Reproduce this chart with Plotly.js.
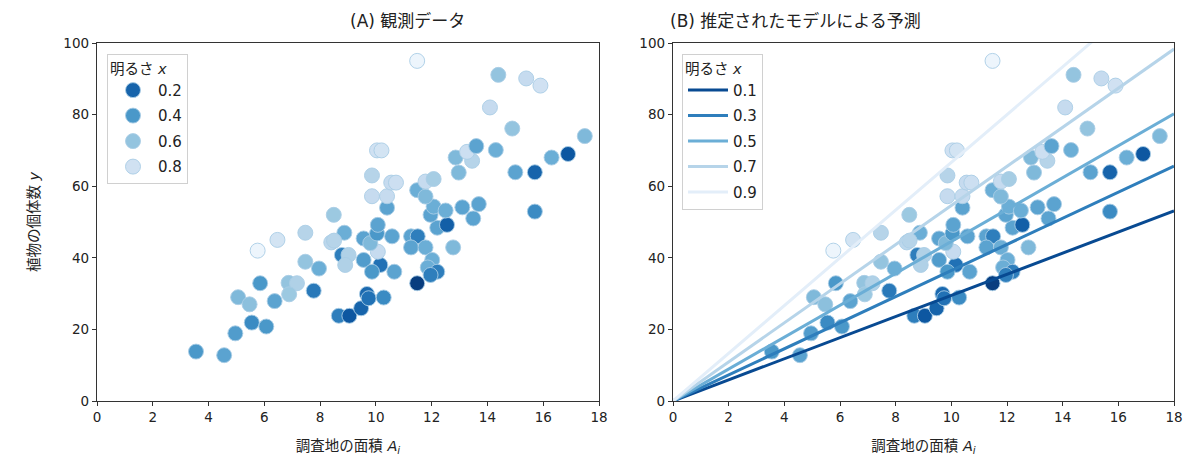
<!DOCTYPE html>
<html>
<head>
<meta charset="utf-8">
<script src="https://cdn.plot.ly/plotly-3.0.1.min.js"></script>
<style>
  body { margin: 0; background: #fff; }
  #chart { width: 1200px; height: 466px; }
</style>
</head>
<body>
<div id="chart"></div>
<script>
// observed plots: area A_i, plant count y, brightness x
var area = [3.55, 4.56, 4.96, 5.06, 5.47, 5.55, 6.07, 5.85, 5.76, 6.47,
            6.37, 6.87, 7.17, 6.89, 7.47, 7.47, 7.96, 7.77, 8.49, 8.87,
            8.40, 8.50, 8.67, 9.05, 8.78, 9.02, 8.90, 9.47, 9.68, 9.74,
            10.28, 9.56, 10.16, 9.86, 10.66, 10.07, 9.56, 9.80, 10.04, 10.07,
            10.58, 10.40, 9.86, 10.40, 9.86, 10.55, 10.72, 10.04, 10.20, 11.48,
            11.26, 11.50, 11.26, 11.78, 12.77, 12.02, 11.86, 12.20, 11.96, 11.48,
            12.20, 12.55, 11.96, 12.07, 12.50, 13.10, 13.69, 13.49, 11.48, 11.78,
            11.78, 12.07, 12.97, 12.86, 13.45, 13.27, 13.60, 14.30, 15.00, 15.70,
            15.70, 16.30, 16.89, 17.49, 14.89, 14.09, 14.39, 15.39, 15.90];
var count = [13.8, 12.8, 18.9, 29.0, 27.0, 21.9, 20.8, 32.9, 42.0, 45.0,
             27.9, 33.0, 32.9, 29.8, 38.9, 47.0, 37.0, 30.8, 52.0, 47.0,
             44.3, 44.8, 23.8, 23.8, 40.8, 40.8, 38.0, 25.9, 29.9, 28.7,
             28.9, 39.4, 38.0, 36.1, 36.1, 41.7, 45.4, 44.1, 46.8, 49.2,
             46.0, 54.0, 57.2, 57.2, 63.0, 61.0, 61.0, 70.0, 70.0, 95.0,
             46.0, 46.0, 42.9, 42.9, 42.9, 39.4, 37.3, 36.1, 35.2, 32.9,
             48.4, 49.2, 52.0, 54.3, 53.2, 54.1, 55.0, 51.0, 58.9, 57.1,
             61.3, 62.0, 63.8, 68.0, 67.1, 69.6, 71.2, 70.1, 63.9, 63.9,
             52.9, 68.0, 69.0, 74.0, 76.1, 82.0, 91.1, 90.1, 88.1];
var bright = [0.40, 0.45, 0.42, 0.55, 0.58, 0.35, 0.40, 0.40, 0.95, 0.82,
              0.45, 0.60, 0.68, 0.62, 0.60, 0.70, 0.50, 0.28, 0.62, 0.50,
              0.72, 0.70, 0.30, 0.15, 0.30, 0.68, 0.68, 0.20, 0.22, 0.25,
              0.35, 0.42, 0.25, 0.40, 0.45, 0.75, 0.45, 0.55, 0.40, 0.45,
              0.45, 0.45, 0.75, 0.75, 0.70, 0.75, 0.78, 0.80, 0.82, 0.95,
              0.45, 0.30, 0.45, 0.50, 0.55, 0.50, 0.50, 0.30, 0.30, 0.05,
              0.45, 0.18, 0.45, 0.50, 0.50, 0.45, 0.45, 0.45, 0.50, 0.55,
              0.75, 0.65, 0.55, 0.55, 0.70, 0.78, 0.45, 0.50, 0.45, 0.20,
              0.35, 0.50, 0.15, 0.55, 0.60, 0.75, 0.60, 0.75, 0.80];

// legend levels (A) and model lines (B)
var legendBright = [0.2, 0.4, 0.6, 0.8];
var lineBright = [0.1, 0.3, 0.5, 0.7, 0.9];
var lineArea = [0, 18];
var lineEnd = [53.1, 65.6, 80.2, 98.3, 120];

var xTicks = [0, 2, 4, 6, 8, 10, 12, 14, 16, 18];
var yTicks = [0, 20, 40, 60, 80, 100];

// matplotlib Blues, reversed (dark = small x)
var bluesR = [[0, '#08306b'], [0.125, '#08519c'], [0.25, '#2171b5'],
              [0.375, '#4292c6'], [0.5, '#6baed6'], [0.625, '#9ecae1'],
              [0.75, '#c6dbef'], [0.875, '#deebf7'], [1, '#f7fbff']];

function hexRgb(h) {
    return [parseInt(h.substr(1, 2), 16), parseInt(h.substr(3, 2), 16), parseInt(h.substr(5, 2), 16)];
}

function blueAt(t) {
    for (var i = 1; i < bluesR.length; i++) {
        if (t <= bluesR[i][0]) {
            var a = hexRgb(bluesR[i - 1][1]), b = hexRgb(bluesR[i][1]);
            var f = (t - bluesR[i - 1][0]) / (bluesR[i][0] - bluesR[i - 1][0]);
            var c = a.map(function (v, k) { return Math.round(v + (b[k] - v) * f); });
            return 'rgb(' + c.join(',') + ')';
        }
    }
    return bluesR[bluesR.length - 1][1];
}

var font = 'DejaVu Sans, Noto Sans CJK JP, sans-serif';
var edge = { color: 'rgba(170,205,230,0.9)', width: 1 };

function pointsTrace(xa, ya) {
    return {
        x: area, y: count, xaxis: xa, yaxis: ya,
        type: 'scatter', mode: 'markers', showlegend: false, hoverinfo: 'skip',
        marker: { size: 15, color: bright, colorscale: bluesR, cmin: 0, cmax: 1, line: edge }
    };
}

var traces = [pointsTrace('x', 'y'), pointsTrace('x2', 'y2')];

legendBright.forEach(function (b) {
    traces.push({
        x: [null], y: [null], xaxis: 'x', yaxis: 'y',
        type: 'scatter', mode: 'markers', name: b.toFixed(1),
        legend: 'legend', legendgroup: 'p' + b,
        marker: { size: 15, color: blueAt(b), line: edge }
    });
});

lineBright.forEach(function (b, i) {
    traces.push({
        x: lineArea, y: [0, lineEnd[i]], xaxis: 'x2', yaxis: 'y2',
        type: 'scatter', mode: 'lines', name: b.toFixed(1),
        legend: 'legend2', legendgroup: 'l' + b,
        line: { color: blueAt(b), width: 3 }
    });
});

function axis(dom, ticks, rng, title) {
    return {
        domain: dom, range: rng, tickvals: ticks, ticktext: ticks.map(String),
        showgrid: false, zeroline: false, showline: true, mirror: true,
        linecolor: '#333', linewidth: 1.2, ticks: 'outside', ticklen: 4,
        tickcolor: '#333', tickfont: { size: 13.5, color: '#222' },
        title: title
    };
}

var yDom = [65 / 466, 423 / 466];
var xTitle = { text: '調査地の面積 <i>A<sub>i</sub></i>', font: { size: 14.5 }, standoff: 16 };

var legendBox = {
    bgcolor: 'rgba(255,255,255,0.9)', bordercolor: '#d0d0d0', borderwidth: 1,
    xanchor: 'left', yanchor: 'top', y: 412 / 466,
    font: { size: 15, color: '#222' },
    tracegroupgap: 3, itemwidth: 40,
    title: { text: '明るさ <i>x</i>', font: { size: 14.5 } }
};

var layout = {
    width: 1200, height: 466,
    margin: { l: 0, r: 0, t: 0, b: 0 },
    paper_bgcolor: '#fff', plot_bgcolor: '#fff',
    font: { family: font, color: '#222' },
    xaxis: axis([97 / 1200, 599 / 1200], xTicks, [0, 18], xTitle),
    yaxis: axis(yDom, yTicks, [0, 100], { text: '植物の個体数 <i>y</i>', font: { size: 14.5 }, standoff: 20 }),
    xaxis2: axis([673 / 1200, 1174 / 1200], xTicks, [0, 18], xTitle),
    yaxis2: axis(yDom, yTicks, [0, 100], { text: '' }),
    legend: Object.assign({ x: 107 / 1200 }, legendBox),
    legend2: Object.assign({ x: 682 / 1200 }, legendBox),
    annotations: [
        { text: '(A) 観測データ', x: 348 / 1200, y: 445 / 466, xref: 'paper', yref: 'paper',
          yanchor: 'middle', showarrow: false, font: { size: 17 } },
        { text: '(B) 推定されたモデルによる予測', x: 923 / 1200, y: 445 / 466, xref: 'paper', yref: 'paper',
          yanchor: 'middle', showarrow: false, font: { size: 17 } }
    ]
};
layout.yaxis2.anchor = 'x2';
layout.xaxis2.anchor = 'y2';

Plotly.newPlot('chart', traces, layout, { displayModeBar: false, staticPlot: true });
</script>
</body>
</html>
